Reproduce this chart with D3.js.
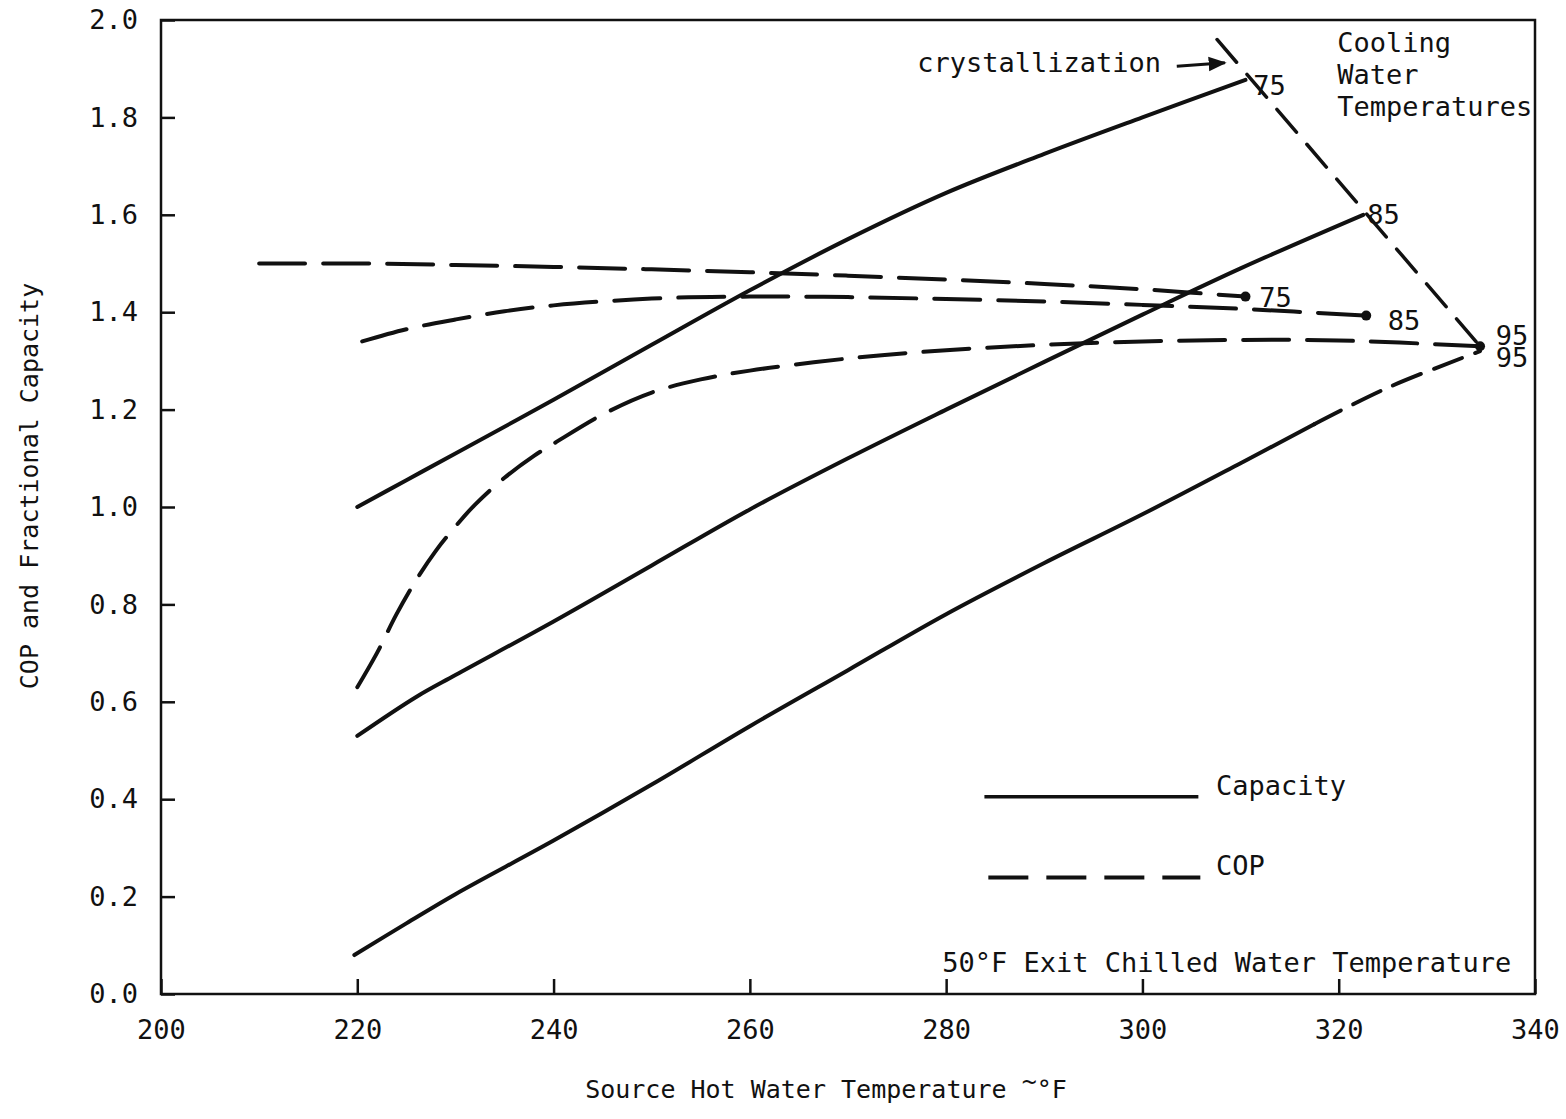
<!DOCTYPE html>
<html>
<head>
<meta charset="utf-8">
<script src="https://cdn.jsdelivr.net/npm/d3@7"></script>
<style>
  html, body { margin: 0; padding: 0; background: #fff; }
  text { font-family: "DejaVu Sans Mono", "Liberation Mono", monospace; fill: #111; }
</style>
</head>
<body>
<svg id="chart" width="1566" height="1119"></svg>
<script>
// ---------- data ----------
const xTicks = [200, 220, 240, 260, 280, 300, 320, 340];
const yTicks = [0.0, 0.2, 0.4, 0.6, 0.8, 1.0, 1.2, 1.4, 1.6, 1.8, 2.0];

// Capacity curves (solid), cooling water 75, 85, 95 °F
const cap75 = [[220,1.00],[225,1.055],[230,1.11],[240,1.22],[250,1.333],[260,1.445],[270,1.55],[280,1.645],[290,1.725],[300,1.80],[310.5,1.877]];
const cap85 = [[220,0.53],[226,0.61],[230,0.655],[240,0.765],[250,0.88],[260,0.995],[270,1.10],[280,1.20],[290,1.298],[300,1.395],[310,1.49],[322.5,1.60]];
const cap95 = [[219.7,0.08],[225,0.145],[230,0.205],[240,0.315],[250,0.43],[260,0.55],[270,0.665],[280,0.78],[290,0.885],[300,0.985],[310,1.09],[317.5,1.17]];
const cap95Ext = [[317.5,1.17],[325,1.245],[334.4,1.32]];

// COP curves (dashed)
const cop75 = [[210,1.50],[220,1.50],[230,1.497],[240,1.493],[250,1.488],[260,1.482],[270,1.475],[280,1.467],[290,1.458],[300,1.447],[310.5,1.432]];
const cop85 = [[220.5,1.34],[225,1.365],[230,1.385],[235,1.402],[240,1.414],[250,1.428],[260,1.432],[270,1.431],[280,1.427],[290,1.422],[300,1.415],[310,1.407],[322.8,1.393]];
const cop95 = [[220,0.63],[222,0.70],[224,0.78],[226,0.85],[228,0.91],[230,0.96],[232,1.005],[235,1.06],[238,1.105],[240,1.13],[245,1.19],[250,1.235],[255,1.262],[260,1.28],[270,1.305],[280,1.322],[290,1.333],[300,1.34],[310,1.343],[320,1.342],[334.4,1.33]];

// crystallization limit line
const crystal = [[307.6,1.96],[334.4,1.33]];
const crystalArrow = [[303.5,1.905],[308.4,1.912]];

// ---------- layout ----------
const svg = d3.select("#chart");
const x = d3.scaleLinear().domain([200, 340]).range([161, 1535]);
const y = d3.scaleLinear().domain([0, 2]).range([994, 20]);
const FS = 27;

const line = d3.line().x(d => x(d[0])).y(d => y(d[1])).curve(d3.curveCatmullRom.alpha(0.5));
const straight = d3.line().x(d => x(d[0])).y(d => y(d[1]));

// frame
svg.append("rect")
  .attr("x", x(200)).attr("y", y(2))
  .attr("width", x(340) - x(200)).attr("height", y(0) - y(2))
  .attr("fill", "none").attr("stroke", "#111").attr("stroke-width", 2.5);

// axes
const gy = svg.append("g").attr("transform", `translate(${x(200)},0)`)
  .call(d3.axisLeft(y).tickValues(yTicks).tickFormat(d3.format(".1f")).tickSizeInner(-14).tickSizeOuter(0).tickPadding(23));
const gx = svg.append("g").attr("transform", `translate(0,${y(0)})`)
  .call(d3.axisBottom(x).tickValues(xTicks).tickFormat(d3.format("d")).tickSizeInner(-15).tickSizeOuter(0).tickPadding(26));
[gx, gy].forEach(g => {
  g.select(".domain").remove();
  g.selectAll(".tick line").attr("stroke", "#111").attr("stroke-width", 2.5);
  g.selectAll(".tick text").attr("font-size", FS).attr("fill", "#111")
    .style("font-family", '"DejaVu Sans Mono", monospace');
});

// axis titles
svg.append("text")
  .attr("transform", `translate(38,486) rotate(-90)`)
  .attr("text-anchor", "middle").attr("font-size", 25)
  .text("COP and Fractional Capacity");
const xl = svg.append("text")
  .attr("x", 826).attr("y", 1098)
  .attr("text-anchor", "middle").attr("font-size", 25);
xl.append("tspan").text("Source Hot Water Temperature ");
xl.append("tspan").attr("dy", -8).text("~");
xl.append("tspan").attr("dy", 8).text("°F");

// curves
const solidStyle = p => p.attr("fill", "none").attr("stroke", "#111").attr("stroke-width", 4).attr("stroke-linecap", "round");
[cap75, cap85, cap95].forEach(s => svg.append("path").attr("d", line(s)).call(solidStyle));
svg.append("path").attr("d", line(cap95Ext)).call(solidStyle).attr("stroke-dasharray", "30,14");

[cop75, cop85, cop95].forEach(s =>
  svg.append("path").attr("d", line(s)).call(solidStyle).attr("stroke-dasharray", "46,18"));

// crystallization line
svg.append("path").attr("d", straight(crystal)).call(solidStyle).attr("stroke-dasharray", "30,16").attr("stroke-width", 3.5);

// end dots on COP curves
const ends = [cop75[cop75.length - 1], cop85[cop85.length - 1], cop95[cop95.length - 1]];
svg.selectAll("circle.end").data(ends).join("circle")
  .attr("cx", d => x(d[0])).attr("cy", d => y(d[1])).attr("r", 5).attr("fill", "#111");

// arrow
svg.append("defs").append("marker")
  .attr("id", "arrow").attr("viewBox", "0 0 10 10").attr("refX", 9).attr("refY", 5)
  .attr("markerWidth", 6).attr("markerHeight", 6).attr("orient", "auto")
  .append("path").attr("d", "M0,1 L10,5 L0,9 Z").attr("fill", "#111");
svg.append("path").attr("d", straight(crystalArrow))
  .attr("stroke", "#111").attr("stroke-width", 3).attr("fill", "none").attr("marker-end", "url(#arrow)");

// text annotations
const label = (t, xv, yv, anchor) => svg.append("text")
  .attr("x", x(xv)).attr("y", y(yv)).attr("font-size", FS)
  .attr("text-anchor", anchor || "start").text(t);
label("crystallization", 301.9, 1.893, "end");
label("75", 311.3, 1.846);
label("85", 322.9, 1.581);
label("75", 311.9, 1.411);
label("85", 325.0, 1.363);
label("95", 336.0, 1.333);
label("95", 336.0, 1.288);
label("Cooling", 319.85, 1.934);
label("Water", 319.85, 1.869);
label("Temperatures", 319.85, 1.803);
label("50°F Exit Chilled Water Temperature", 279.6, 0.045);

// legend
svg.append("line").attr("x1", x(283.9)).attr("x2", x(305.7)).attr("y1", y(0.405)).attr("y2", y(0.405))
  .attr("stroke", "#111").attr("stroke-width", 3.5);
svg.append("line").attr("x1", x(284.3)).attr("x2", x(305.9)).attr("y1", y(0.239)).attr("y2", y(0.239))
  .attr("stroke", "#111").attr("stroke-width", 4).attr("stroke-dasharray", "40,18");
label("Capacity", 307.5, 0.408);
label("COP", 307.5, 0.244);
</script>
</body>
</html>
